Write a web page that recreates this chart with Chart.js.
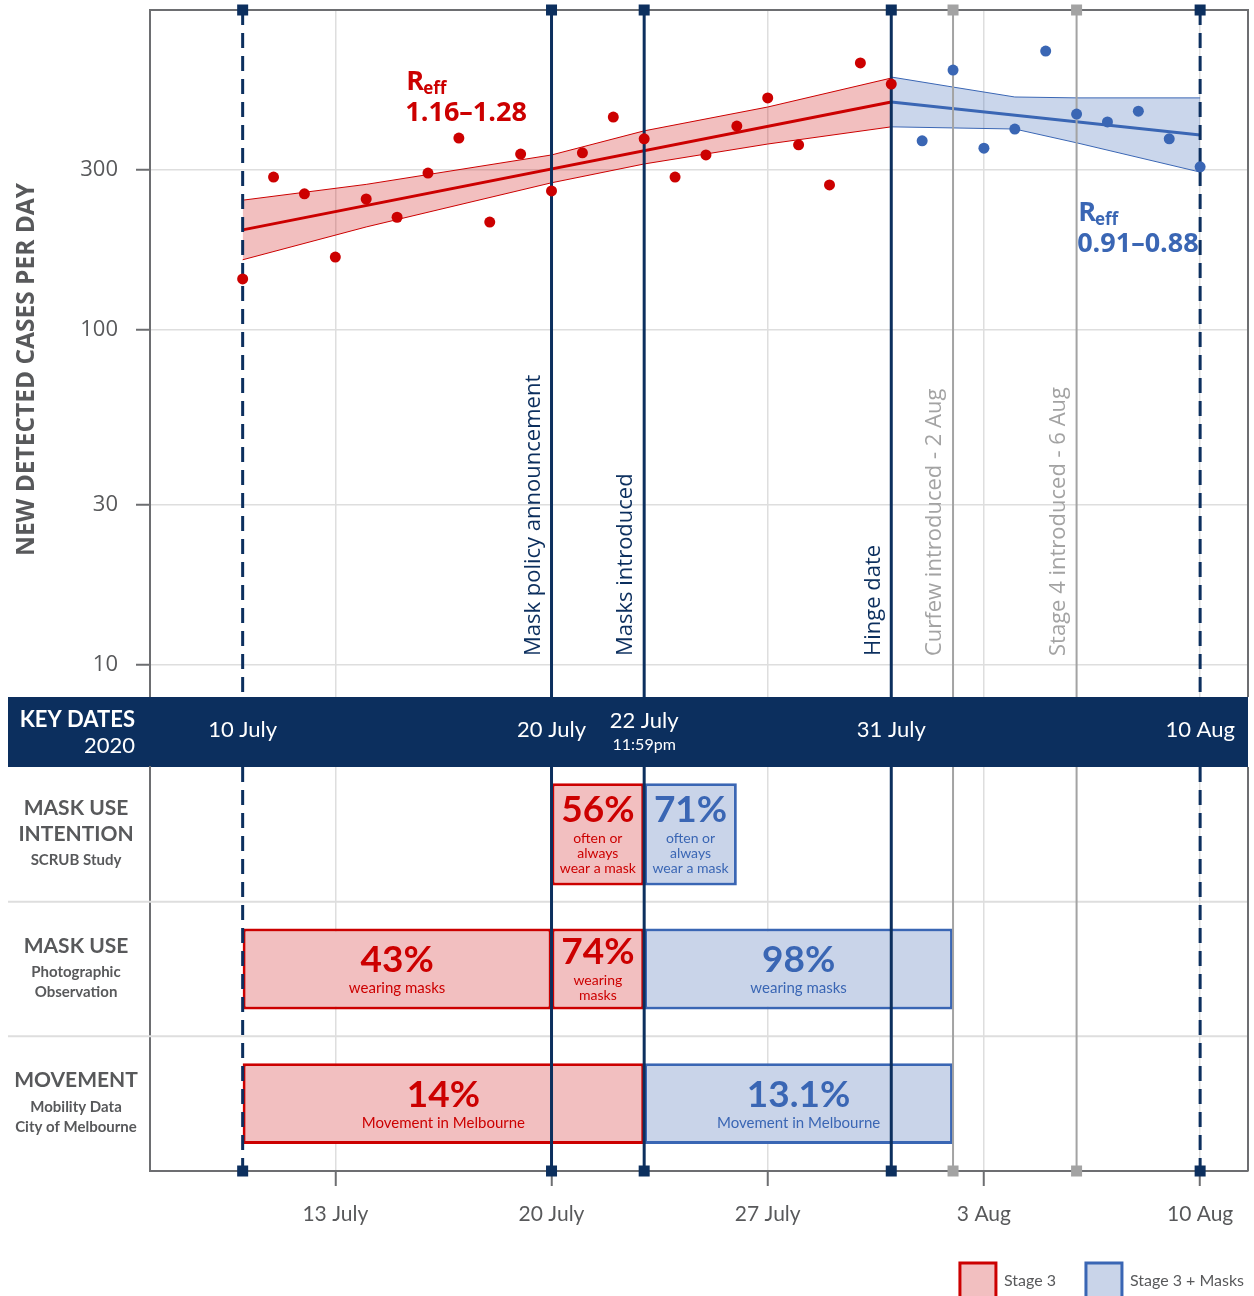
<!DOCTYPE html>
<html>
<head>
<meta charset="utf-8">
<title>Mask use and new cases, Melbourne July–August 2020</title>
<script src="https://cdn.jsdelivr.net/npm/chart.js@4.4.1/dist/chart.umd.min.js"></script>
<style>
  html, body { margin: 0; padding: 0; background: #fff; overflow: hidden; }
  #topChart { position: absolute; left: 0; top: 0; }
  #lowChart { position: absolute; left: 0; top: 697px; }
</style>
</head>
<body>
<canvas id="topChart" width="1254" height="697"></canvas>
<canvas id="lowChart" width="1254" height="612"></canvas>
<script>
// Days are counted from 1 July 2020, so 1 Aug = 32.
const xTickDays = [13, 20, 27, 34, 41];
const xTickLabels = ['13 July', '20 July', '27 July', '3 Aug', '10 Aug'];
const yTicks = [10, 30, 100, 300];

// daily new cases
const stage3Days = [10, 11, 12, 13, 14, 15, 16, 17, 18, 19, 20, 21, 22, 23, 24, 25, 26, 27, 28, 29, 30, 31];
const stage3Cases = [142, 286, 255, 165, 246, 217, 294, 374, 210, 335, 260, 338, 432, 372, 286, 333, 406, 493, 357, 271, 627, 542];
const maskDays = [32, 33, 34, 35, 36, 37, 38, 39, 40, 41];
const maskCases = [367, 597, 349, 398, 680, 441, 418, 450, 372, 307];

// fitted trend and its band
const stage3FitDays = [10, 31];
const stage3Fit = [199, 479];
const stage3BandDays = [10, 14, 20, 23, 27, 31];
const stage3Upper = [244, 272, 333, 393, 463, 565];
const stage3Lower = [162, 203, 275, 313, 359, 404];
const maskFitDays = [31, 41];
const maskFit = [479, 382];
const maskBandDays = [31, 33, 35, 37, 41];
const maskUpper = [569, 531, 496, 493, 493];
const maskLower = [404, 401, 398, 362, 296];

// event lines
const eventDays = [10, 20, 23, 31, 33, 37, 41];
const eventKinds = ['bound', 'key', 'key', 'key', 'policy', 'policy', 'bound'];
const eventLabels = ['', 'Mask policy announcement', 'Masks introduced', 'Hinge date',
  'Curfew introduced - 2 Aug', 'Stage 4 introduced - 6 Aug', ''];

// key dates band
const keyDateDays = [10, 20, 23, 31, 41];
const keyDateLabels = ['10 July', '20 July', '22 July', '31 July', '10 Aug'];
const keyDateNotes = ['', '', '11:59pm', '', ''];

// lower panel rows
const rowNames = ['MASK USE INTENTION', 'MASK USE', 'MOVEMENT'];
const rowTitles = [['MASK USE', 'INTENTION'], ['MASK USE'], ['MOVEMENT']];
const rowSources = [['SCRUB Study'], ['Photographic', 'Observation'], ['Mobility Data', 'City of Melbourne']];
const stage3Spans = [[20, 23], [10, 20], [10, 23]];
const stage3Pct = ['56%', '43%', '14%'];
const stage3Notes = [['often or', 'always', 'wear a mask'], ['wearing masks'], ['Movement in Melbourne']];
const stage3LateSpan = [20, 23];   // photographic observation, after the announcement
const stage3LatePct = '74%';
const stage3LateNotes = ['wearing', 'masks'];
const maskSpans = [[23, 26], [23, 33], [23, 33]];
const maskPct = ['71%', '98%', '13.1%'];
const maskNotes = [['often or', 'always', 'wear a mask'], ['wearing masks'], ['Movement in Melbourne']];

const NAVY = '#0c2f5e';
const RED = '#cc0000';
const RED_BAND = 'rgba(204,0,0,0.25)';
const RED_BOX = '#f2bfc0';
const BLUE = '#3a66b4';
const BLUE_BAND = 'rgba(58,102,180,0.27)';
const BLUE_BOX = '#c9d4e9';
const GRID = '#dedede';
const FRAME = '#6d6e71';
const TEXT = '#58595b';
const GREY_LINE = '#a3a3a3';
const FIRA = 'Lato, "Noto Sans", sans-serif';
const OPEN = '"Open Sans", "Noto Sans", sans-serif';

const pts = (xs, ys) => xs.map((x, i) => ({ x, y: ys[i] }));
const setTicks = vals => s => { s.ticks = vals.map(v => ({ value: v })); };

function drawEventLines(chart, withLabels) {
  const { ctx, chartArea: a, scales: { x } } = chart;
  eventDays.forEach((d, i) => {
    const px = x.getPixelForValue(d);
    const kind = eventKinds[i];
    ctx.save();
    ctx.strokeStyle = kind === 'policy' ? GREY_LINE : NAVY;
    ctx.lineWidth = kind === 'policy' ? 2 : 3;
    ctx.setLineDash(kind === 'bound' ? [15, 8] : []);
    ctx.beginPath();
    ctx.moveTo(px, a.top);
    ctx.lineTo(px, a.bottom);
    ctx.stroke();
    if (withLabels && eventLabels[i]) {
      ctx.translate(px - 18, a.bottom - 41);
      ctx.rotate(-Math.PI / 2);
      ctx.font = '22px ' + OPEN;
      ctx.fillStyle = kind === 'policy' ? GREY_LINE : NAVY;
      ctx.textAlign = 'left';
      ctx.textBaseline = 'middle';
      ctx.fillText(eventLabels[i], 0, 0);
    }
    ctx.restore();
  });
}

function drawSquares(chart, py) {
  const { ctx, scales: { x } } = chart;
  ctx.save();
  eventDays.forEach((d, i) => {
    ctx.fillStyle = eventKinds[i] === 'policy' ? GREY_LINE : NAVY;
    ctx.fillRect(x.getPixelForValue(d) - 5.5, py - 5.5, 11, 11);
  });
  ctx.restore();
}

function drawReff(ctx, px, py, value, color) {
  ctx.fillStyle = color;
  ctx.textAlign = 'left';
  ctx.textBaseline = 'alphabetic';
  ctx.font = 'bold 27px ' + OPEN;
  ctx.fillText('R', px, py);
  const w = ctx.measureText('R').width;
  ctx.font = 'bold 17px ' + OPEN;
  ctx.fillText('eff', px + w - 1, py + 4);
  ctx.font = 'bold 27px ' + OPEN;
  ctx.fillText(value, px - 1, py + 31);
}

const topDecor = {
  id: 'topDecor',
  afterDatasetDraw(chart, args) {
    // after the fitted lines, before the daily points
    if (args.index === 2) drawEventLines(chart, true);
  },
  afterDraw(chart) {
    const { ctx, chartArea: a, scales: { x, y } } = chart;
    ctx.save();
    ctx.strokeStyle = FRAME;
    ctx.lineWidth = 2;
    ctx.beginPath();
    ctx.moveTo(a.left, a.bottom);
    ctx.lineTo(a.left, a.top);
    ctx.lineTo(a.right, a.top);
    ctx.lineTo(a.right, a.bottom);
    ctx.stroke();
    drawSquares(chart, a.top);

    ctx.save();
    ctx.translate(27, (a.top + a.bottom) / 2 + 16);
    ctx.rotate(-Math.PI / 2);
    ctx.font = 'bold 24.5px ' + OPEN;
    ctx.fillStyle = TEXT;
    ctx.textAlign = 'center';
    ctx.textBaseline = 'middle';
    ctx.fillText('NEW DETECTED CASES PER DAY', 0, 0);
    ctx.restore();

    drawReff(ctx, x.getPixelForValue(15.3), y.getPixelForValue(520), '1.16–1.28', RED);
    drawReff(ctx, x.getPixelForValue(37.05), y.getPixelForValue(211), '0.91–0.88', BLUE);
    ctx.restore();
  }
};

const lineSet = (data, color, width, order, extra) => Object.assign({
  type: 'line', data, borderColor: color, borderWidth: width, pointRadius: 0,
  tension: 0, fill: false, order
}, extra || {});

new Chart(document.getElementById('topChart'), {
  type: 'scatter',
  data: {
    datasets: [
      { label: 'Stage 3', data: pts(stage3Days, stage3Cases), backgroundColor: RED, borderWidth: 0, pointRadius: 5.5, order: 0 },
      { label: 'Stage 3 + Masks', data: pts(maskDays, maskCases), backgroundColor: BLUE, borderWidth: 0, pointRadius: 5.5, order: 0 },
      lineSet(pts(stage3FitDays, stage3Fit), RED, 3, 1),
      lineSet(pts(maskFitDays, maskFit), BLUE, 3, 1),
      lineSet(pts(stage3BandDays, stage3Lower), RED, 1, 2),
      lineSet(pts(stage3BandDays, stage3Upper), RED, 1, 2, { fill: '-1', backgroundColor: RED_BAND }),
      lineSet(pts(maskBandDays, maskLower), BLUE, 1, 2),
      lineSet(pts(maskBandDays, maskUpper), BLUE, 1, 2, { fill: '-1', backgroundColor: BLUE_BAND })
    ]
  },
  options: {
    responsive: false,
    animation: false,
    events: [],
    devicePixelRatio: 1,
    layout: { autoPadding: false, padding: { top: 10, right: 6, left: 0, bottom: 0 } },
    scales: {
      x: {
        type: 'linear', min: 7, max: 42.55,
        afterBuildTicks: setTicks(xTickDays),
        afterFit: s => { s.height = 0; s.paddingLeft = 0; s.paddingRight = 0; },
        ticks: { display: false },
        grid: { color: GRID, lineWidth: 1.5, drawTicks: false },
        border: { display: false }
      },
      y: {
        type: 'logarithmic', min: 8.02, max: 902,
        afterBuildTicks: setTicks(yTicks),
        afterFit: s => { s.width = 150; s.paddingTop = 0; s.paddingBottom = 0; },
        ticks: { font: { family: OPEN, size: 22 }, color: TEXT, padding: 18, callback: v => String(v) },
        grid: { color: GRID, lineWidth: 1.5, tickLength: 14, tickColor: FRAME, tickWidth: 2 },
        border: { display: false }
      }
    },
    plugins: { legend: { display: false }, tooltip: { enabled: false } }
  },
  plugins: [topDecor]
});

const lowDecor = {
  id: 'lowDecor',
  beforeDraw(chart) {
    const { ctx, chartArea: a, scales: { x } } = chart;
    ctx.save();
    ctx.fillStyle = NAVY;
    ctx.fillRect(8, 0, a.right - 8, a.top);
    ctx.fillStyle = '#ffffff';
    ctx.textAlign = 'right';
    ctx.textBaseline = 'middle';
    ctx.font = 'bold 22px ' + FIRA;
    ctx.fillText('KEY DATES', 135, a.top - 47);
    ctx.font = '22px ' + FIRA;
    ctx.fillText('2020', 135, a.top - 21);
    ctx.textAlign = 'center';
    keyDateDays.forEach((d, i) => {
      const px = x.getPixelForValue(d);
      ctx.font = '22px ' + FIRA;
      if (keyDateNotes[i]) {
        ctx.fillText(keyDateLabels[i], px, a.top - 46);
        ctx.font = '16px ' + FIRA;
        ctx.fillText(keyDateNotes[i], px, a.top - 22);
      } else {
        ctx.fillText(keyDateLabels[i], px, a.top - 37);
      }
    });
    ctx.restore();
  },
  beforeDatasetsDraw(chart) {
    const { ctx, chartArea: a, scales: { y } } = chart;
    ctx.save();
    ctx.strokeStyle = GRID;
    ctx.lineWidth = 2;
    for (let i = 1; i < rowNames.length; i++) {
      const py = (y.getPixelForValue(i - 1) + y.getPixelForValue(i)) / 2;
      ctx.beginPath();
      ctx.moveTo(8, py);
      ctx.lineTo(a.right, py);
      ctx.stroke();
    }
    ctx.restore();
  },
  afterDatasetsDraw(chart) {
    const { ctx, chartArea: a, scales: { y } } = chart;
    drawEventLines(chart, false);

    ctx.save();
    ctx.textAlign = 'center';
    ctx.textBaseline = 'middle';
    chart.data.datasets.forEach((ds, di) => {
      const meta = chart.getDatasetMeta(di);
      ds.data.forEach((v, i) => {
        if (!v) return;
        const el = meta.data[i];
        const cx = (el.x + el.base) / 2;
        const notes = ds.notes[i];
        const py = el.y - 9 - (notes.length - 1) * 7.5;
        ctx.fillStyle = ds.borderColor;
        ctx.font = 'bold 37px ' + FIRA;
        ctx.fillText(ds.pct[i], cx, py);
        ctx.font = (notes.length > 1 ? '14px ' : '15px ') + FIRA;
        notes.forEach((t, k) => ctx.fillText(t, cx, py + 28 + k * 15));
      });
    });

    // row labels
    ctx.fillStyle = TEXT;
    rowNames.forEach((n, i) => {
      const lines = [];
      let off = 0;
      rowTitles[i].forEach((t, k) => { if (k) off += 26; lines.push({ t, off, big: true }); });
      rowSources[i].forEach((t, k) => { off += k ? 20 : 26; lines.push({ t, off, big: false }); });
      const top = y.getPixelForValue(i) - off / 2;
      lines.forEach(l => {
        ctx.font = (l.big ? 'bold 21px ' : 'bold 15px ') + FIRA;
        ctx.fillText(l.t, 76, top + l.off);
      });
    });

    ctx.strokeStyle = FRAME;
    ctx.lineWidth = 2;
    ctx.beginPath();
    ctx.moveTo(a.right, a.top);
    ctx.lineTo(a.right, a.bottom);
    ctx.stroke();
    ctx.restore();
    drawSquares(chart, a.bottom);
  }
};

const barSet = (label, data, color, fill, thick, pct, notes) => ({
  label, data, borderColor: color, backgroundColor: fill, barPercentage: thick, pct, notes
});

new Chart(document.getElementById('lowChart'), {
  type: 'bar',
  data: {
    labels: rowNames,
    datasets: [
      barSet('Stage 3', [stage3Spans[0], null, null], RED, RED_BOX, 0.76, stage3Pct, stage3Notes),
      barSet('Stage 3 + Masks', [maskSpans[0], null, null], BLUE, BLUE_BOX, 0.76, maskPct, maskNotes),
      barSet('Stage 3', [null, stage3Spans[1], stage3Spans[2]], RED, RED_BOX, 0.6, stage3Pct, stage3Notes),
      barSet('Stage 3', [null, stage3LateSpan, null], RED, RED_BOX, 0.6, [null, stage3LatePct, null], [null, stage3LateNotes, null]),
      barSet('Stage 3 + Masks', [null, maskSpans[1], maskSpans[2]], BLUE, BLUE_BOX, 0.6, maskPct, maskNotes)
    ]
  },
  options: {
    indexAxis: 'y',
    responsive: false,
    animation: false,
    events: [],
    devicePixelRatio: 1,
    layout: { autoPadding: false, padding: { top: 70, right: -20, left: 0, bottom: 0 } },
    datasets: { bar: { grouped: false, categoryPercentage: 1, borderWidth: 3, borderSkipped: false } },
    scales: {
      x: {
        type: 'linear', min: 7, max: 42.55,
        afterBuildTicks: setTicks(xTickDays),
        afterFit: s => { s.height = 62; },
        ticks: { font: { family: FIRA, size: 21 }, color: TEXT, padding: 16, maxRotation: 0, callback: (v, i) => xTickLabels[i] },
        grid: { color: GRID, lineWidth: 1.5, tickLength: 15, tickColor: FRAME, tickWidth: 2 },
        border: { color: FRAME, width: 2 }
      },
      y: {
        type: 'category', offset: true,
        ticks: { display: false },
        grid: { display: false },
        border: { color: FRAME, width: 2 },
        afterFit: s => { s.width = 150; }
      },
      yPad: {
        type: 'category', position: 'right',
        ticks: { display: false },
        grid: { display: false },
        border: { display: false },
        afterFit: s => { s.width = 26; }
      }
    },
    plugins: {
      tooltip: { enabled: false },
      legend: {
        position: 'bottom',
        align: 'end',
        labels: {
          boxWidth: 36, boxHeight: 36, padding: 30,
          font: { family: FIRA, size: 16 }, color: TEXT,
          generateLabels: () => [
            { text: 'Stage 3', fillStyle: RED_BOX, strokeStyle: RED, lineWidth: 3, hidden: false, fontColor: TEXT },
            { text: 'Stage 3 + Masks', fillStyle: BLUE_BOX, strokeStyle: BLUE, lineWidth: 3, hidden: false, fontColor: TEXT }
          ]
        }
      }
    }
  },
  plugins: [lowDecor]
});
</script>
</body>
</html>
